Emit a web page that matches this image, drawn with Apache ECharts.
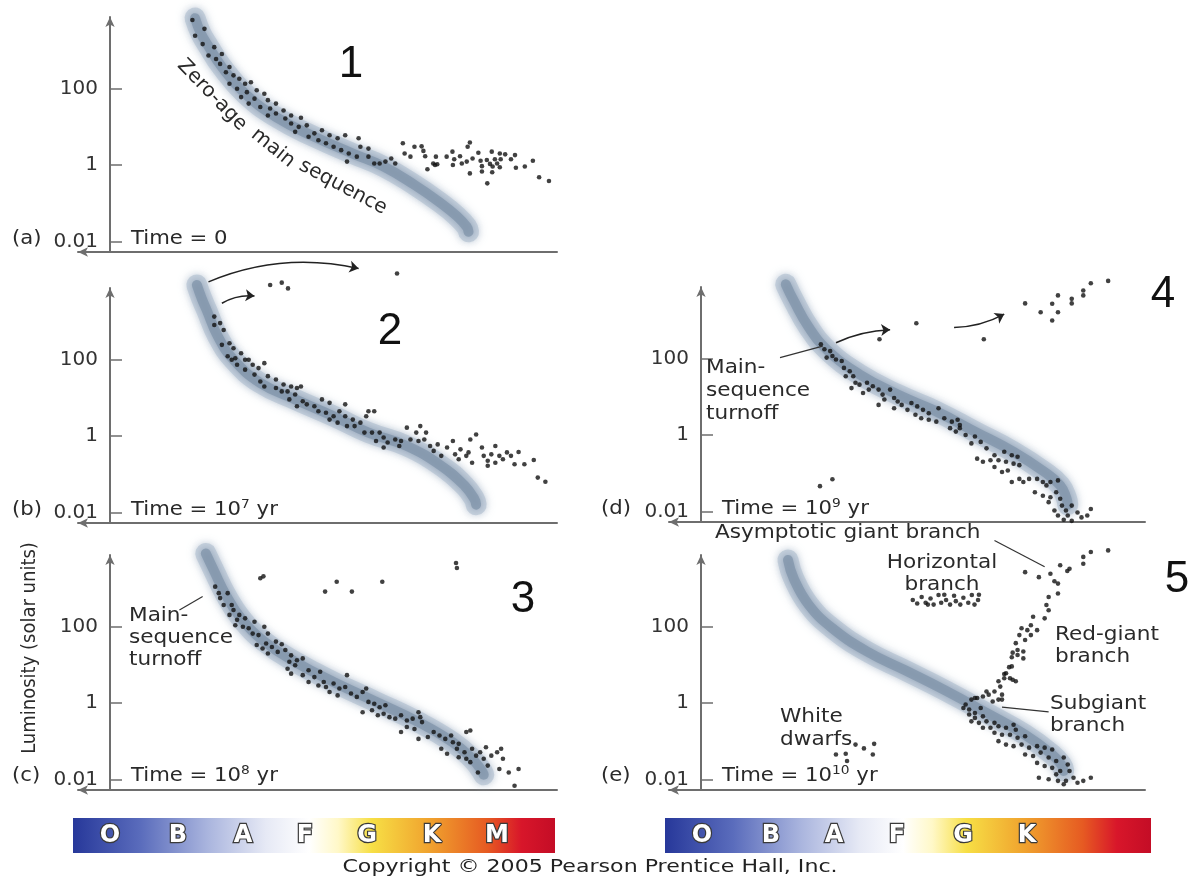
<!DOCTYPE html>
<html><head><meta charset="utf-8">
<script src="https://cdn.jsdelivr.net/npm/echarts@6/dist/echarts.min.js"></script>
<style>html,body{margin:0;padding:0;background:#fff}#c{width:1191px;height:880px}</style>
</head><body><div id="c"></div>
<script>
// ---------- DATA (x: position along temperature axis 0..100 from y-axis, y: log10 luminosity) ----------
const yTickLogs = [-2, 0, 2];
const yTickLabels = ['0.01', '1', '100'];
const panelLetters = ['(a)', '(b)', '(c)', '(d)', '(e)'];
const panelNumbers = ['1', '2', '3', '4', '5'];
const timeExponents = [null, '7', '8', '9', '10'];
const spectralLeft = ['O', 'B', 'A', 'F', 'G', 'K', 'M'];
const spectralRight = ['O', 'B', 'A', 'F', 'G', 'K'];

const zamsA = [[19.0,3.85],[20.3,3.45],[21.8,3.15],[25.0,2.57],[30.2,1.87],[37.1,1.26],[45.7,0.74],[54.3,0.30],[61.2,-0.04],[68.1,-0.52],[73.8,-0.98],[77.6,-1.34],[79.8,-1.62],[80.2,-1.75]];
const zamsB = [[19.4,3.96],[20.5,3.60],[21.6,3.30],[24.1,2.61],[27.6,2.00],[33.6,1.39],[41.4,0.96],[50.0,0.52],[57.8,0.09],[66.4,-0.26],[74.1,-0.78],[79.3,-1.30],[81.5,-1.65],[81.9,-1.80]];
const zamsC = [[21.4,3.92],[23.3,3.45],[25.9,2.83],[29.3,2.22],[34.5,1.61],[41.4,1.08],[50.0,0.55],[59.5,0.03],[69.0,-0.50],[76.7,-1.03],[81.0,-1.46],[83.0,-1.75],[83.6,-1.88]];
const zamsD = [[19.1,3.95],[20.9,3.52],[24.3,2.82],[28.7,2.20],[35.7,1.59],[44.3,1.06],[53.0,0.62],[61.7,0.09],[70.4,-0.44],[77.4,-0.97],[80.9,-1.32],[82.3,-1.65],[82.6,-1.83]];
const zamsE = [[19.6,3.75],[20.9,3.26],[24.3,2.57],[29.6,1.96],[37.4,1.35],[46.1,0.85],[55.0,0.33],[64.3,-0.26],[73.0,-0.83],[79.1,-1.35],[81.2,-1.62],[81.7,-1.78]];

const starsA = [[18.4,3.80],[21.1,3.57],[19.0,3.39],[20.7,3.17],[23.3,3.09],[22.0,2.87],[23.7,2.78],[25.0,2.91],[24.6,2.65],[26.7,2.57],[25.9,2.43],[27.6,2.35],[28.9,2.26],[26.7,2.13],[30.2,2.13],[31.5,2.17],[28.4,2.00],[30.6,1.91],[32.8,1.96],[34.5,1.87],[29.3,1.78],[32.3,1.74],[35.3,1.70],[37.1,1.61],[31.0,1.61],[33.6,1.52],[35.8,1.48],[38.8,1.43],[40.5,1.30],[42.7,1.24],[37.1,1.35],[39.2,1.22],[35.3,1.30],[40.5,1.09],[42.2,1.00],[44.0,1.04],[41.4,0.87],[45.7,0.83],[47.4,0.91],[44.4,0.74],[49.1,0.78],[50.9,0.70],[52.6,0.78],[46.6,0.65],[48.3,0.57],[50.0,0.48],[51.7,0.39],[53.4,0.30],[55.6,0.70],[56.0,0.48],[57.8,0.43],[53.0,0.09],[55.2,0.22],[57.8,0.22],[59.1,0.04],[60.3,0.04],[61.6,0.09],[62.9,0.17],[63.8,0.04],[65.5,0.57],[65.9,0.30],[67.2,0.22],[68.1,0.48],
[69.7,0.49],[70.1,0.37],[70.5,0.23],[71.0,-0.11],[72.3,0.04],[72.9,0.22],[72.7,0.00],[73.2,0.02],[75.3,0.22],[76.6,0.35],[76.7,0.00],[77.0,0.15],[78.3,0.23],[78.7,0.04],[79.8,0.09],[80.0,0.48],[80.5,0.59],[80.5,-0.22],[81.1,0.17],[82.4,0.32],[82.9,0.11],[83.2,-0.03],[83.2,-0.17],[84.3,0.13],[84.4,-0.48],[85.0,0.03],[85.4,0.35],[85.6,-0.04],[85.5,-0.19],[86.1,0.15],[86.6,0.04],[87.2,0.30],[87.4,0.15],[87.2,-0.06],[88.4,0.28],[89.7,0.15],[90.6,0.26],[90.8,-0.07],[92.8,-0.04],[94.6,0.11],[96.0,-0.32],[98.2,-0.42]];

const starsB = [[35.8,3.96],[38.4,4.02],[39.8,3.87],[64.2,4.26],
[23.3,3.13],[24.6,2.96],[23.3,2.91],[25.4,2.78],[26.7,2.43],[25.0,2.39],[27.6,2.30],[26.3,2.09],[28.0,2.04],[29.3,2.17],[30.2,2.00],[27.2,2.00],[28.4,1.87],[31.0,2.00],[31.9,1.87],[33.2,1.78],[34.5,1.91],[30.2,1.74],[32.3,1.61],[33.6,1.43],[35.3,1.57],[34.5,1.30],[37.1,1.48],[38.8,1.35],[40.5,1.30],[41.8,1.26],[37.1,1.26],[38.4,1.17],[39.7,1.17],[42.7,1.30],[41.4,1.09],[40.1,0.96],[43.1,0.91],[41.8,0.78],[44.0,0.83],[45.7,0.78],[47.4,0.96],[49.1,0.87],[52.6,0.83],[46.6,0.65],[48.3,0.61],[50.0,0.52],[51.3,0.65],[52.6,0.52],[54.3,0.43],[56.0,0.35],[49.1,0.43],[50.9,0.35],[53.0,0.26],[54.7,0.26],[57.3,0.52],[57.8,0.65],[59.1,0.65],[56.9,0.09],[58.6,0.09],[60.3,0.09],[61.2,-0.04],[62.1,-0.17],[59.5,-0.13],[63.8,-0.09],[65.1,-0.13],[66.4,0.22],[68.5,0.09],[69.4,0.26],[70.7,0.09],[70.3,-0.09],[71.6,-0.26],[72.4,-0.39],[73.3,-0.22],[74.1,-0.52],[75.4,-0.30],[76.7,-0.13],[77.2,-0.48],[78.4,-0.35],[79.7,-0.52],[80.6,-0.09],[81.9,0.04],[83.2,-0.30],[83.6,-0.52],[84.5,-0.65],[85.3,-0.48],[86.2,-0.26],[87.1,-0.52],[87.9,-0.61],[88.8,-0.43],[89.7,-0.52],[90.5,-0.74],[91.4,-0.42],[92.7,-0.74],[94.8,-0.63],[95.7,-1.09],[97.4,-1.20],[61.2,-0.30],[64.7,-0.26],[67.2,-0.09],[69.0,-0.13],[78.0,-0.61],[81.0,-0.70],[84.5,-0.78],[86.2,-0.70],[80.2,-0.43]];

const starsC = [[33.6,3.27],[34.3,3.32],[48.1,2.92],[50.7,3.18],[54.1,2.92],[60.9,3.18],[77.4,3.67],[77.6,3.54],
[23.5,3.05],[24.3,2.88],[24.6,2.75],[26.3,2.88],[25.4,2.57],[27.2,2.57],[27.6,2.44],[26.7,2.31],[28.9,2.31],[28.4,2.18],[30.2,2.22],[28.0,2.04],[29.7,2.00],[31.0,1.96],[32.3,2.13],[34.5,2.00],[31.9,1.82],[33.2,1.78],[35.3,1.82],[32.8,1.52],[34.1,1.43],[34.9,1.56],[36.2,1.47],[37.1,1.61],[38.4,1.54],[39.2,1.39],[35.3,1.30],[37.5,1.34],[40.5,1.25],[41.8,1.12],[40.1,1.08],[41.4,0.99],[43.1,1.17],[39.7,0.90],[40.5,0.77],[44.4,0.86],[43.1,0.73],[45.7,0.68],[47.0,0.82],[47.8,0.55],[44.4,0.55],[46.6,0.46],[48.3,0.42],[50.0,0.51],[51.3,0.38],[49.1,0.29],[52.6,0.42],[53.0,0.73],[50.9,0.20],[53.9,0.25],[55.2,0.16],[56.5,0.29],[57.3,0.38],[57.8,0.03],[59.1,-0.02],[60.3,-0.11],[61.6,-0.06],[56.5,-0.24],[58.6,-0.19],[59.9,-0.32],[61.2,-0.28],[62.5,-0.37],[63.8,-0.41],[65.1,-0.32],[66.4,-0.46],[67.7,-0.41],[69.0,-0.24],[69.4,-0.37],[66.4,-0.63],[68.1,-0.68],[69.8,-0.50],[71.1,-0.89],[72.4,-0.76],[73.7,-0.85],[75.0,-0.94],[76.3,-0.85],[76.7,-1.03],[78.0,-1.07],[79.7,-0.76],[80.6,-0.72],[77.6,-1.20],[79.3,-1.29],[81.0,-1.20],[81.9,-1.38],[82.8,-1.29],[84.1,-1.16],[79.7,-1.46],[82.3,-1.82],[83.6,-1.46],[85.3,-1.38],[86.6,-1.29],[87.5,-1.20],[87.9,-1.46],[87.1,-1.73],[89.2,-1.82],[91.4,-1.73],[90.5,-2.17],[69.0,-0.94],[65.1,-0.76],[74.1,-1.20],[75.4,-1.33],[78.0,-1.42],[80.6,-1.55],[84.5,-1.64]];

const starsD = [[40.2,2.51],[48.5,2.93],[63.7,2.51],[73.0,3.45],[76.5,3.22],[79.1,3.44],[79.1,3.00],[80.4,3.66],[80.4,3.22],[83.5,3.57],[83.5,3.45],[86.1,3.79],[86.1,3.66],[87.8,3.98],[91.7,4.04],[26.8,-1.34],[29.6,-1.16],
[27.0,2.38],[27.8,2.25],[29.1,2.20],[29.6,2.07],[28.3,2.03],[30.4,1.98],[31.7,1.94],[32.2,1.76],[33.5,1.67],[32.6,1.54],[34.3,1.54],[34.8,1.37],[33.9,1.23],[35.7,1.32],[37.4,1.37],[38.7,1.28],[37.8,1.19],[36.5,1.10],[40.0,1.19],[40.9,1.06],[42.6,1.19],[41.3,0.93],[40.0,0.79],[43.5,0.97],[44.3,0.88],[45.2,0.79],[43.5,0.70],[46.5,0.66],[47.4,0.84],[48.7,0.75],[50.0,0.66],[51.3,0.57],[53.5,0.70],[48.3,0.53],[49.6,0.44],[51.3,0.40],[53.0,0.35],[54.8,0.44],[56.5,0.35],[57.8,0.40],[58.3,0.26],[58.3,0.18],[56.1,0.18],[57.4,0.09],[59.6,0.00],[61.7,-0.04],[63.0,-0.18],[60.9,-0.22],[64.3,-0.35],[66.1,-0.53],[62.2,-0.62],[63.5,-0.70],[65.2,-0.66],[67.0,-0.66],[68.7,-0.70],[68.3,-0.44],[70.0,-0.53],[71.3,-0.57],[70.4,-0.75],[71.7,-0.79],[66.1,-0.84],[67.8,-0.97],[69.1,-0.93],[70.0,-1.23],[71.7,-1.15],[72.6,-1.23],[73.9,-1.15],[75.7,-1.15],[77.0,-1.23],[77.8,-1.32],[78.7,-1.23],[80.4,-1.19],[75.2,-1.50],[77.0,-1.59],[78.7,-1.63],[80.0,-1.50],[80.9,-1.67],[78.3,-1.76],[81.3,-1.85],[83.5,-1.85],[82.2,-1.98],[79.6,-1.98],[80.4,-2.11],[82.6,-2.11],[84.8,-2.03],[85.7,-2.16],[87.0,-2.11],[87.8,-1.94],[83.5,-2.25],[81.7,-2.22]];

const starsE = [[47.7,2.70],[48.7,2.61],[49.7,2.78],[50.6,2.63],[51.7,2.74],[52.4,2.58],[53.5,2.83],[54.1,2.63],[55.2,2.70],[56.1,2.58],[57.0,2.81],[57.4,2.67],[58.4,2.58],[59.1,2.76],[60.2,2.63],[61.0,2.83],[61.6,2.58],[62.4,2.70],[62.6,2.84],[51.1,2.58],[54.8,2.84],
[73.0,3.43],[76.1,3.30],[78.7,3.39],[80.9,3.61],[83.0,3.52],[86.1,3.65],[86.1,3.83],[87.8,3.96],[91.7,4.00],[82.5,3.46],[79.6,3.19],[80.4,3.13],[80.4,2.87],[78.3,2.78],[77.8,2.57],[78.3,2.43],[77.4,2.22],[74.8,2.26],[74.3,2.04],[72.2,1.96],[73.5,1.91],[75.7,1.91],[71.7,1.78],[74.3,1.78],[73.0,1.65],[70.9,1.57],[71.3,1.39],[72.6,1.35],[71.3,1.26],[72.6,1.17],[70.0,0.96],[68.7,0.78],[68.3,0.65],[69.6,0.65],[67.0,0.57],[67.4,0.43],[70.9,0.57],[66.1,0.30],[67.8,0.22],[64.8,0.22],[63.5,0.17],[67.0,0.09],[61.7,0.13],[70.2,1.32],[70.0,1.20],[69.4,0.94],[68.3,0.76],[70.2,0.61],
[59.6,-0.04],[60.9,0.09],[62.2,0.13],[64.3,0.30],[59.1,-0.13],[60.4,-0.17],[61.7,-0.26],[63.0,-0.13],[65.7,0.04],[67.8,0.09],[60.4,-0.30],[61.7,-0.39],[63.5,-0.35],[60.9,-0.48],[62.6,-0.52],[64.3,-0.48],[66.1,-0.52],[63.5,-0.65],[65.2,-0.65],[67.0,-0.61],[68.7,-0.65],[70.4,-0.57],[70.9,-0.70],[66.1,-0.78],[67.8,-0.83],[69.6,-0.83],[71.3,-0.91],[73.0,-0.87],[67.0,-1.00],[68.7,-1.09],[70.4,-1.13],[72.2,-1.09],[73.9,-1.17],[75.7,-1.13],[77.4,-1.17],[79.1,-1.22],[73.0,-1.35],[74.8,-1.39],[76.5,-1.30],[78.3,-1.43],[80.0,-1.52],[81.7,-1.43],[82.6,-1.61],[75.7,-1.57],[77.4,-1.65],[79.1,-1.70],[80.9,-1.78],[83.0,-1.78],[76.1,-1.96],[78.3,-2.00],[80.4,-2.04],[82.2,-2.04],[83.9,-1.96],[86.1,-2.04],[87.8,-1.96],[84.8,-2.09],[81.7,-2.13],[80.0,-1.87],
[30.4,-1.35],[32.6,-1.33],[32.9,-1.52],[34.8,-1.09],[36.7,-1.19],[39.0,-1.07],[38.7,-1.35]];

const arrowsB = [[[22.0,4.04],[55.6,4.39]], [[25.0,3.48],[32.3,3.67]]];
const arrowsD = [[[30.4,2.42],[42.6,2.76]], [[57.0,2.82],[68.3,3.17]]];
const leadersC = [[[15.5,2.44],[20.7,2.79]]];
const leadersD = [[[17.8,2.03],[27.4,2.33]]];
const leadersE = [[[66.1,4.26],[77.4,3.57]], [[67.8,-0.11],[78.3,-0.23]]];

// ---------- LAYOUT ----------
const FONT = '"DejaVu Sans", sans-serif';
const panels = [
  {grid:{left:78, top:17, width:479, height:235}, zams:zamsA, stars:starsA, arrows:[], leaders:[]},
  {grid:{left:78, top:288, width:479, height:235}, zams:zamsB, stars:starsB, arrows:arrowsB, leaders:[]},
  {grid:{left:78, top:555, width:479, height:235}, zams:zamsC, stars:starsC, arrows:[], leaders:leadersC},
  {grid:{left:669, top:287, width:476, height:235}, zams:zamsD, stars:starsD, arrows:arrowsD, leaders:leadersD},
  {grid:{left:669, top:555, width:476, height:235}, zams:zamsE, stars:starsE, arrows:[], leaders:leadersE}
];
const AX = '#6e6e6e';
const X_MIN = -7.2, X_MAX = 100;

const grids = [], xAxes = [], yAxes = [], series = [];
panels.forEach((p, i) => {
  grids.push(Object.assign({outerBoundsMode:'none', containLabel:false}, p.grid));
  // y axis sits at x = 0 : shift it inward from the grid's left edge
  const yOff = -Math.round((0 - X_MIN) / (X_MAX - X_MIN) * p.grid.width);
  xAxes.push({gridIndex:i, type:'value', min:X_MIN, max:X_MAX,
    axisLine:{show:true, onZero:false, symbol:['arrow','none'], symbolSize:[7,10], lineStyle:{color:AX, width:2}},
    axisTick:{show:false}, axisLabel:{show:false}, splitLine:{show:false}});
  yAxes.push({gridIndex:i, type:'value', min:-2.28, max:3.88, offset:yOff,
    axisLine:{show:true, onZero:false, symbol:['none','arrow'], symbolSize:[7,10], lineStyle:{color:AX, width:2}},
    axisTick:{show:true, inside:true, length:12, customValues:yTickLogs, lineStyle:{color:AX, width:1.5}},
    axisLabel:{show:true, customValues:yTickLogs, margin:12, fontFamily:FONT, fontSize:20, color:'#333',
      formatter:(v) => yTickLabels[yTickLogs.indexOf(Math.round(v))]},
    splitLine:{show:false}});
  series.push({type:'line', xAxisIndex:i, yAxisIndex:i, data:p.zams, smooth:0.45, showSymbol:false, silent:true, clip:false, z:1,
    lineStyle:{width:21, color:'rgba(190,203,216,0.8)', cap:'round', shadowBlur:8, shadowColor:'rgba(175,190,206,0.9)'}});
  series.push({type:'line', xAxisIndex:i, yAxisIndex:i, data:p.zams, smooth:0.45, showSymbol:false, silent:true, clip:false, z:2,
    lineStyle:{width:10, color:'rgba(128,148,170,0.75)', cap:'round', shadowBlur:9, shadowColor:'rgba(120,140,165,0.9)'}});
  series.push({type:'scatter', xAxisIndex:i, yAxisIndex:i, data:p.stars, symbolSize:4.6, clip:false, silent:true, z:5,
    itemStyle:{color:'#111'}});
  p.arrows.forEach((a, k) => series.push({type:'lines', coordinateSystem:'cartesian2d', xAxisIndex:i, yAxisIndex:i, clip:false, silent:true, z:6,
    symbol:['none','arrow'], symbolSize:9,
    lineStyle:{color:'#222', width:1.5, opacity:1, curveness:(i === 1 ? 0.16 : (k === 0 ? 0.1 : -0.12))},
    data:[{coords:a}]}));
  if (p.leaders.length) {
    series.push({type:'lines', coordinateSystem:'cartesian2d', xAxisIndex:i, yAxisIndex:i, clip:false, silent:true, z:6,
      symbol:['none','none'], lineStyle:{color:'#333', width:1.2, opacity:1, curveness:0},
      data:p.leaders.map(c => ({coords:c}))});
  }
});

// ---------- TEXT / DECORATION ----------
const graphic = [];
function txt(x, y, text, o) {
  o = o || {};
  graphic.push({type:'text', x:x, y:y, rotation:o.rot || 0, scaleX:o.sx || 1, scaleY:o.sy || 1, silent:true, z:10,
    style:{text:text, fill:o.fill || '#2a2a2a', font:(o.weight || 'normal') + ' ' + (o.size || 20) + 'px ' + (o.family || FONT),
      align:o.align || 'left', textAlign:o.align || 'left', verticalAlign:o.va || 'middle', textVerticalAlign:o.va || 'middle',
      lineHeight:o.lh, stroke:o.stroke, lineWidth:o.lw}});
}
function timeLabel(x, y, exp) {
  const t = exp ? '{a|Time = 10}{s|' + exp + '}{a| yr}' : '{a|Time = 0}';
  graphic.push({type:'text', x:x, y:y, scaleX:1.06, silent:true, z:10,
    style:{text:t, fill:'#2a2a2a', align:'left', textAlign:'left', verticalAlign:'middle', textVerticalAlign:'middle',
      rich:{a:{font:'20px ' + FONT, lineHeight:24, fill:'#2a2a2a'}, s:{font:'13px ' + FONT, lineHeight:13, verticalAlign:'top', fill:'#2a2a2a'}}}});
}
const letterPos = [[12,239],[12,510],[12,776],[601,509],[601,776]];
const timePos = [[131,239],[131,510],[131,776],[722,509],[722,776]];
letterPos.forEach((q, i) => { txt(q[0], q[1], panelLetters[i], {sx:1.06}); timeLabel(timePos[i][0], timePos[i][1], timeExponents[i]); });
const numPos = [[351,65],[390,332],[523,600],[1163,295],[1177,580]];
numPos.forEach((q, i) => txt(q[0], q[1], panelNumbers[i], {size:44, family:'"Liberation Sans", Arial, sans-serif', align:'center', fill:'#111'}));

txt(212, 95, 'Zero-age', {rot:-46*Math.PI/180, align:'center'});
txt(273, 148, 'main', {rot:-39*Math.PI/180, align:'center'});
txt(343, 187, 'sequence', {rot:-28*Math.PI/180, align:'center'});
txt(129, 605, 'Main-\nsequence\nturnoff', {va:'top', lh:22, sx:1.08});
txt(706, 356, 'Main-\nsequence\nturnoff', {va:'top', lh:23, sx:1.08});
txt(715, 533, 'Asymptotic giant branch', {sx:1.08});
txt(942, 552, 'Horizontal\nbranch', {va:'top', lh:22, align:'center', sx:1.08});
txt(1055, 624, 'Red-giant\nbranch', {va:'top', lh:22, sx:1.08});
txt(1050, 693, 'Subgiant\nbranch', {va:'top', lh:22, sx:1.08});
txt(780, 705, 'White\ndwarfs', {va:'top', lh:23, sx:1.08});
txt(30, 648, 'Luminosity (solar units)', {rot:Math.PI/2, align:'center', size:18, sy:1.1});

// spectral colour bars
const barStops = [
  {offset:0, color:'#27389a'}, {offset:0.14, color:'#5a6cbc'}, {offset:0.28, color:'#aab5de'}, {offset:0.40, color:'#e6e9f5'},
  {offset:0.49, color:'#ffffff'}, {offset:0.55, color:'#fff8c8'}, {offset:0.62, color:'#f7df45'}, {offset:0.74, color:'#f0a22e'},
  {offset:0.86, color:'#e65a22'}, {offset:0.93, color:'#d8162a'}, {offset:1, color:'#c40d26'}];
[[73, 482], [665, 486]].forEach(b => graphic.push({type:'rect', shape:{x:b[0], y:818, width:b[1], height:35}, silent:true, z:3,
  style:{fill:{type:'linear', x:0, y:0, x2:1, y2:0, colorStops:barStops}}}));
const leftLetterX = [110, 178, 243, 305, 367, 432, 497];
const rightLetterX = [702, 771, 834, 897, 963, 1027];
const letterOpt = {align:'center', size:24, weight:'bold', fill:'#ffffff', stroke:'#3a3a3a', lw:2.4};
spectralLeft.forEach((s, i) => txt(leftLetterX[i], 836, s, letterOpt));
spectralRight.forEach((s, i) => txt(rightLetterX[i], 836, s, letterOpt));
txt(590, 868, 'Copyright \u00A9 2005 Pearson Prentice Hall, Inc.', {align:'center', size:17, sx:1.3, fill:'#222'});

const chart = echarts.init(document.getElementById('c'), null, {renderer:'canvas'});
chart.setOption({backgroundColor:'#ffffff', animation:false, grid:grids, xAxis:xAxes, yAxis:yAxes, series:series, graphic:{elements:graphic}});
</script></body></html>
